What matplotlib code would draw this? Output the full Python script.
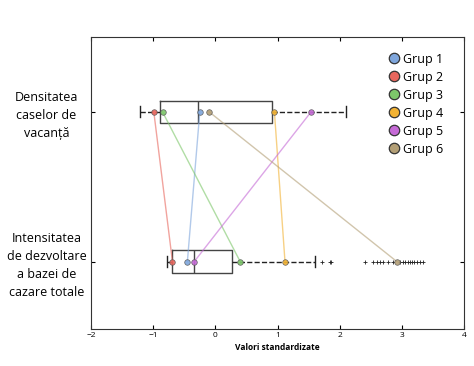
import matplotlib
matplotlib.use("Agg")
import matplotlib.pyplot as plt
from matplotlib.lines import Line2D

plt.rcParams['font.family'] = ['Open Sans', 'DejaVu Sans']

categories = ["Densitatea\ncaselor de\nvacanță", "Intensitatea\nde dezvoltare\na bazei de\ncazare totale"]
groups = ["Grup 1", "Grup 2", "Grup 3", "Grup 4", "Grup 5", "Grup 6"]
colors = ["#7fa6dc", "#e8675e", "#7dc76a", "#f2b233", "#c56ad6", "#b39f76"]

# group values for each category
top_vals = [-0.25, -0.99, -0.85, 0.95, 1.54, -0.10]
bot_vals = [-0.45, -0.69, 0.40, 1.12, -0.34, 2.92]

# box statistics per category
q1 = [-0.89, -0.69]
med = [-0.28, -0.35]
q3 = [0.91, 0.27]
whislo = [-1.21, -0.77]
whishi = [2.10, 1.61]
fliers_top = []
fliers_bot = [1.71, 1.84, 1.86, 2.41, 2.54, 2.60, 2.65, 2.70, 2.78, 2.86, 2.97,
              3.02, 3.05, 3.10, 3.13, 3.16, 3.19, 3.24, 3.29, 3.34]

xticks = [-2, -1, 0, 1, 2, 3, 4]

fig = plt.figure(figsize=(4.74, 3.66), dpi=100)
ax = fig.add_axes([0.192, 0.101, 0.787, 0.798])

stats = []
fl = [fliers_top, fliers_bot]
for i in range(2):
    stats.append(dict(med=med[i], q1=q1[i], q3=q3[i], whislo=whislo[i],
                      whishi=whishi[i], fliers=fl[i], label=categories[i]))

ax.bxp(stats, positions=[1, 2], vert=False, widths=0.15,
       boxprops=dict(color="#444444", linewidth=1.0),
       medianprops=dict(color="#444444", linewidth=1.0),
       whiskerprops=dict(color="#222222", linewidth=1.0, linestyle="--"),
       capprops=dict(color="#222222", linewidth=1.0),
       flierprops=dict(marker="+", markersize=3, markeredgecolor="#222222",
                       markeredgewidth=0.6, linestyle="none"),
       zorder=2)

for i in range(len(groups)):
    ax.plot([top_vals[i], bot_vals[i]], [1, 2], color=colors[i], alpha=0.6,
            linewidth=1.0, zorder=3)
    ax.plot([top_vals[i], bot_vals[i]], [1, 2], linestyle="none", marker="o",
            markersize=4, markerfacecolor=colors[i], markeredgecolor="#555555",
            markeredgewidth=0.5, alpha=0.9, zorder=4)

ax.set_xlim(-2, 4)
ax.set_ylim(2.45, 0.5)
ax.set_xticks(xticks)
ax.set_xticklabels([f"{t:d}".replace("-", "\u2212") for t in xticks], fontsize=6)
ax.set_yticks([1, 2])
ax.set_yticklabels(categories, fontsize=9, ha="center", multialignment="center",
                   linespacing=1.5)
ax.tick_params(axis="y", pad=32, length=3, direction="in", right=True)
ax.tick_params(axis="x", length=3, direction="in", top=True, pad=2)
ax.set_xlabel("Valori standardizate", fontsize=6, fontweight="bold", labelpad=3)
for s in ax.spines.values():
    s.set_linewidth(0.8)
    s.set_color("#333333")

handles = [Line2D([], [], linestyle="none", marker="o", markersize=7.5,
                  markerfacecolor=c, markeredgecolor="#333333", markeredgewidth=0.9)
           for c in colors]
ax.legend(handles, groups, loc="upper right", bbox_to_anchor=(0.975, 0.985),
          frameon=False, fontsize=9, handletextpad=0.15, labelspacing=0.4,
          handlelength=1.2)

fig.savefig("out.png", dpi=100)
